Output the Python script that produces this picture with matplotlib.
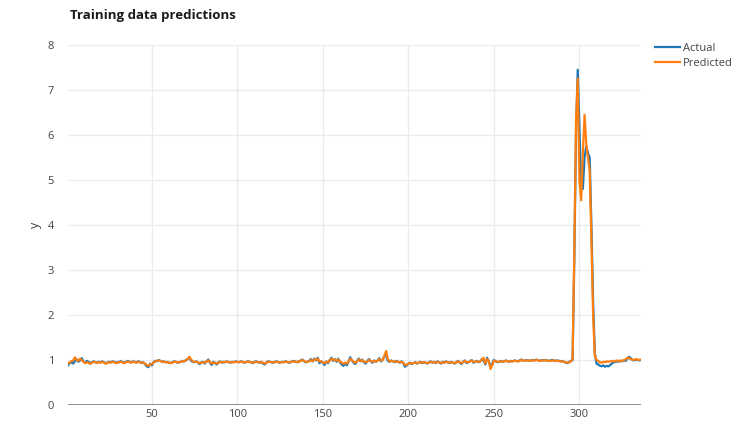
import numpy as np
import matplotlib
matplotlib.use("Agg")
import matplotlib.pyplot as plt

# training targets (y) and model output, one value per sample 1..336
actual = [
    0.88, 0.93, 0.95, 0.92, 0.97, 1.02, 0.96, 0.99, 1.04, 0.97,
    0.94, 0.98, 0.96, 0.93, 0.95, 0.97, 0.95, 0.94, 0.96, 0.95,
    0.97, 0.95, 0.93, 0.94, 0.96, 0.95, 0.97, 0.96, 0.94, 0.95,
    0.96, 0.97, 0.95, 0.94, 0.96, 0.98, 0.96, 0.95, 0.97, 0.96,
    0.95, 0.97, 0.96, 0.93, 0.95, 0.91, 0.86, 0.84, 0.92, 0.88,
    0.95, 0.98, 0.97, 1.00, 0.98, 0.96, 0.97, 0.95, 0.96, 0.94,
    0.93, 0.95, 0.97, 0.96, 0.94, 0.95, 0.96, 0.98, 0.97, 1.00,
    1.02, 1.06, 0.98, 0.96, 0.95, 0.97, 0.94, 0.91, 0.95, 0.96,
    0.92, 0.97, 1.01, 0.94, 0.89, 0.96, 0.93, 0.90, 0.95, 0.97,
    0.94, 0.96, 0.95, 0.97, 0.95, 0.94, 0.96, 0.95, 0.97, 0.96,
    0.95, 0.97, 0.96, 0.94, 0.95, 0.97, 0.96, 0.95, 0.93, 0.96,
    0.97, 0.95, 0.94, 0.96, 0.92, 0.90, 0.95, 0.97, 0.96, 0.95,
    0.94, 0.96, 0.97, 0.95, 0.94, 0.96, 0.95, 0.97, 0.96, 0.94,
    0.95, 0.97, 0.98, 0.96, 0.95, 0.97, 0.99, 1.01, 0.97, 0.95,
    0.96, 0.98, 1.02, 0.97, 1.03, 0.99, 1.05, 0.93, 0.97, 0.94,
    0.89, 0.97, 0.93, 1.00, 1.05, 0.98, 1.02, 0.96, 1.03, 0.95,
    0.90, 0.87, 0.93, 0.88, 0.96, 1.06, 0.99, 0.94, 0.91, 0.98,
    1.03, 0.97, 1.01, 0.95, 0.92, 0.98, 1.02, 0.97, 0.94, 0.99,
    0.96, 0.99, 1.04, 0.97, 1.01, 1.08, 1.12, 0.98, 0.96, 0.99,
    0.97, 0.95, 0.98, 0.96, 0.94, 0.97, 0.93, 0.85, 0.88, 0.92,
    0.94, 0.91, 0.93, 0.95, 0.92, 0.94, 0.96, 0.93, 0.95, 0.94,
    0.92, 0.95, 0.97, 0.94, 0.96, 0.93, 0.97, 0.95, 0.92, 0.96,
    0.94, 0.97, 0.95, 0.93, 0.96, 0.94, 0.92, 0.95, 0.98, 0.94,
    0.91, 0.96, 0.99, 0.93, 0.95, 0.97, 1.00, 0.94, 0.96, 0.98,
    0.95, 0.97, 1.02, 0.99, 0.90, 1.05, 0.96, 0.86, 0.92, 1.00,
    0.97, 0.95, 0.96, 0.98, 0.96, 0.97, 0.99, 0.97, 0.96, 0.98,
    0.97, 0.99, 0.98, 0.97, 0.99, 1.01, 0.99, 0.98, 1.00, 0.99,
    0.98, 1.00, 0.99, 1.00, 1.01, 0.99, 0.98, 1.00, 0.99, 1.00,
    0.99, 0.98, 0.99, 1.00, 0.99, 0.98, 0.99, 0.98, 0.97, 0.98,
    0.96, 0.94, 0.93, 0.96, 0.98,
    1.00, 3.20, 6.00, 7.45, 6.20, 4.85, 4.80, 5.50, 5.75, 5.60,
    5.50, 4.00, 2.30, 1.15, 0.92,
    0.90, 0.87, 0.86, 0.88, 0.85, 0.87, 0.86, 0.89, 0.92, 0.95,
    0.96, 0.97, 0.96, 0.98, 0.97, 0.99, 0.98, 1.03, 1.07, 1.04,
    1.00, 0.99, 1.01, 1.00, 0.99, 1.00,
]

predicted = [
    0.92, 0.95, 0.97, 0.99, 1.06, 1.00, 0.98, 1.03, 1.00, 0.96,
    0.93, 0.95, 0.94, 0.91, 0.94, 0.96, 0.95, 0.93, 0.95, 0.94,
    0.96, 0.94, 0.92, 0.93, 0.95, 0.94, 0.96, 0.95, 0.93, 0.94,
    0.95, 0.96, 0.94, 0.93, 0.95, 0.97, 0.95, 0.94, 0.96, 0.95,
    0.94, 0.96, 0.95, 0.94, 0.94, 0.92, 0.89, 0.87, 0.90, 0.91,
    0.94, 0.97, 0.98, 0.99, 0.98, 0.96, 0.96, 0.95, 0.95, 0.94,
    0.93, 0.94, 0.96, 0.96, 0.95, 0.95, 0.96, 0.97, 0.98, 0.99,
    1.03, 1.07, 1.01, 0.97, 0.96, 0.96, 0.95, 0.93, 0.94, 0.95,
    0.94, 0.96, 0.99, 0.96, 0.92, 0.94, 0.94, 0.92, 0.94, 0.96,
    0.95, 0.95, 0.96, 0.96, 0.95, 0.95, 0.95, 0.95, 0.96, 0.96,
    0.95, 0.96, 0.96, 0.95, 0.95, 0.96, 0.96, 0.95, 0.94, 0.95,
    0.96, 0.95, 0.95, 0.95, 0.94, 0.92, 0.94, 0.96, 0.96, 0.95,
    0.95, 0.95, 0.96, 0.95, 0.95, 0.95, 0.95, 0.96, 0.96, 0.95,
    0.95, 0.96, 0.97, 0.96, 0.96, 0.96, 0.98, 1.00, 0.98, 0.96,
    0.96, 0.97, 1.00, 0.98, 1.01, 1.00, 1.03, 0.97, 0.97, 0.95,
    0.93, 0.96, 0.95, 0.99, 1.03, 1.00, 1.01, 0.98, 1.01, 0.97,
    0.94, 0.92, 0.94, 0.92, 0.96, 1.03, 1.00, 0.96, 0.94, 0.97,
    1.01, 0.98, 1.00, 0.96, 0.95, 0.97, 1.00, 0.98, 0.96, 0.98,
    0.97, 0.98, 1.02, 0.99, 1.00, 1.10, 1.20, 1.02, 0.97, 0.98,
    0.97, 0.96, 0.97, 0.96, 0.95, 0.96, 0.94, 0.89, 0.89, 0.92,
    0.93, 0.92, 0.93, 0.94, 0.93, 0.94, 0.95, 0.94, 0.95, 0.94,
    0.93, 0.94, 0.96, 0.95, 0.95, 0.94, 0.96, 0.95, 0.93, 0.95,
    0.94, 0.96, 0.95, 0.94, 0.95, 0.94, 0.93, 0.95, 0.97, 0.95,
    0.93, 0.95, 0.98, 0.95, 0.95, 0.97, 0.99, 0.96, 0.96, 0.97,
    0.96, 0.97, 1.01, 1.05, 0.92, 1.02, 0.99, 0.80, 0.88, 0.98,
    0.98, 0.96, 0.96, 0.97, 0.97, 0.97, 0.98, 0.97, 0.97, 0.97,
    0.97, 0.98, 0.98, 0.97, 0.98, 1.00, 0.99, 0.98, 0.99, 0.99,
    0.98, 0.99, 0.99, 0.99, 1.00, 0.99, 0.98, 0.99, 0.99, 0.99,
    0.99, 0.98, 0.98, 0.99, 0.99, 0.98, 0.98, 0.98, 0.97, 0.97,
    0.96, 0.95, 0.94, 0.95, 0.97,
    1.02, 3.40, 6.30, 7.25, 5.00, 4.55, 5.60, 6.45, 5.80, 5.50,
    5.20, 3.70, 2.00, 1.10, 1.00,
    0.98, 0.95, 0.94, 0.96, 0.95, 0.97, 0.96, 0.97, 0.98, 0.97,
    0.98, 0.99, 0.97, 0.99, 0.98, 1.00, 1.01, 1.05, 1.04, 1.02,
    1.01, 1.00, 1.02, 1.01, 1.00, 1.01,
]

x = np.arange(1, len(actual) + 1)
xticks = [50, 100, 150, 200, 250, 300]
yticks = [0, 1, 2, 3, 4, 5, 6, 7, 8]

plt.rcParams['font.family'] = ['Open Sans', 'DejaVu Sans']

W, H = 731, 430
fig = plt.figure(figsize=(W / 100, H / 100), dpi=100)
# plot area: x 68..641 px, y=8 at 45 px, y=0 at 405 px
ax = fig.add_axes([68 / W, 1 - 405 / H, (641 - 68) / W, (405 - 45) / H])
ax.set_ylim(0, 8)
ax.set_xlim(1, 336)

ax.plot(x, actual, color='#1f77b4', lw=1.6, label='Actual')
ax.plot(x, predicted, color='#ff7f0e', lw=1.6, label='Predicted')

ax.set_xticks(xticks)
ax.set_yticks(yticks)
ax.grid(True, color='#ebebeb', lw=1)
ax.axhline(0, color='#444444', lw=1.2, alpha=0.7)
for s in ax.spines.values():
    s.set_visible(False)
ax.tick_params(length=0, labelsize=8, colors='#444444')
ax.tick_params(axis='y', pad=10)
ax.tick_params(axis='x', pad=3)
ax.set_ylabel('y', fontsize=9, color='#444444', labelpad=4)

fig.text(70 / W, 1 - 15 / H, 'Training data predictions', fontsize=9.5,
         fontweight='bold', color='#1a1a1a', va='center', ha='left')

ax.legend(loc='upper left', bbox_to_anchor=(1.024, 1.005), frameon=False,
          fontsize=8, labelcolor='#444444', handlelength=2.3,
          handletextpad=0.25, labelspacing=0.3, borderaxespad=0,
          borderpad=0)

fig.savefig('out.png', dpi=100)
